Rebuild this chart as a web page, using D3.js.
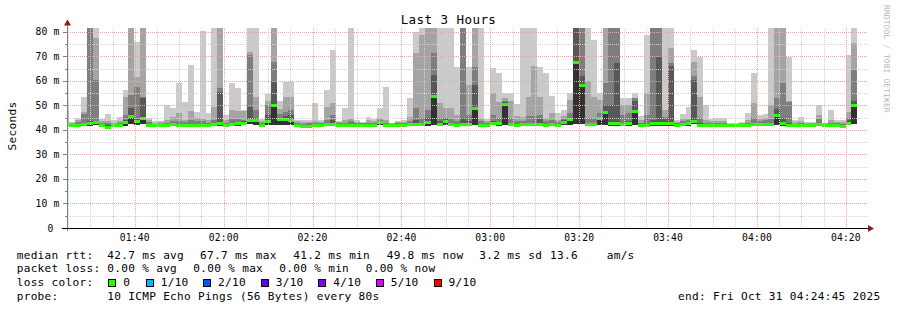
<!DOCTYPE html>
<html>
<head>
<meta charset="utf-8">
<script src="https://cdn.jsdelivr.net/npm/d3@7"></script>
<style>
  html, body { margin: 0; padding: 0; background: #ffffff; }
  svg { display: block; }
  text { font-family: "DejaVu Sans Mono", "Liberation Mono", monospace; fill: #000; }
</style>
</head>
<body>
<svg id="chart" width="897" height="310"></svg>
<script>
// ---------------- data ----------------
const chartTitle = "Last 3 Hours";
const yAxisTitle = "Seconds";
const watermark = "RRDTOOL / TOBI OETIKER";
const yTickValues = [0, 10, 20, 30, 40, 50, 60, 70, 80];
const yTickLabels = ["0 ", "10 m", "20 m", "30 m", "40 m", "50 m", "60 m", "70 m", "80 m"];
const xTickLabels = ["01:40", "02:00", "02:20", "02:40", "03:00", "03:20", "03:40", "04:00", "04:20"];
const endStamp = "2025-10-31 04:24:45";
const firstSlotEnd = "2025-10-31 01:25:15";
const stepSeconds = 80;

// RTT in ms per 80 s slot (sorted ping ranks)
const rttMin = [
41.6,41.5,41.6,41.6,41.8,42.0,41.5,41.0,41.5,41.6,
41.8,42.5,42.0,42.3,41.6,41.5,41.5,41.6,41.7,41.6,
41.6,41.6,41.6,41.6,41.5,41.7,41.8,41.5,41.7,41.8,
42.0,42.3,42.2,41.6,42.0,42.0,42.2,42.2,42.2,41.6,
41.1,41.2,41.6,41.6,41.7,41.7,41.6,41.6,41.6,41.6,
41.6,41.6,41.6,42.0,41.6,41.4,41.6,41.6,41.7,41.7,
41.7,41.8,42.0,41.8,42.2,41.7,41.6,41.8,41.7,42.0,
41.6,41.4,42.0,41.8,42.0,41.7,41.6,41.7,41.7,41.7,
41.7,41.6,41.7,41.6,42.2,42.2,42.5,42.5,41.7,41.7,
42.2,42.2,41.8,41.8,41.7,41.8,42.2,41.6,41.6,41.8,
41.8,41.8,41.8,41.6,41.7,41.8,42.3,41.6,41.4,41.6,
41.4,41.4,41.3,41.3,41.4,41.6,41.7,41.7,41.7,41.8,
42.2,41.8,41.6,41.4,41.4,41.4,41.4,41.7,41.4,41.6,
41.4,41.3,42.2,42.5];
const rttMedian = [
42.2,41.8,42.0,42.3,42.5,43.0,41.8,41.2,41.8,42.0,
43.0,45.4,43.6,44.5,42.0,41.8,41.8,42.0,42.3,42.0,
42.0,42.0,42.0,42.0,41.8,42.3,42.5,42.0,42.3,42.6,
42.8,44.0,43.8,42.0,43.3,49.8,44.3,44.3,44.0,42.0,
41.5,41.6,42.0,42.0,42.2,42.3,42.0,42.0,42.0,42.0,
42.0,42.0,42.0,43.0,42.0,41.8,42.0,42.0,42.3,42.3,
42.3,43.2,53.8,42.3,43.6,42.3,42.0,42.3,42.3,48.8,
42.0,41.8,42.8,42.5,50.3,42.3,42.0,42.2,42.3,42.3,
42.3,42.0,42.2,42.0,43.0,44.2,67.7,58.0,42.3,42.3,
44.5,47.3,42.5,42.5,42.3,42.5,47.7,42.0,42.0,42.5,
42.7,42.5,42.5,42.0,42.3,42.5,43.4,42.0,41.8,42.0,
41.8,41.8,41.7,41.7,41.8,42.0,42.3,42.3,42.3,42.4,
45.8,42.5,42.0,41.8,41.8,41.8,41.8,42.3,41.8,42.0,
41.8,41.6,42.8,49.8];
const rttP7 = [
43,42.2,42.5,43,43.5,43.5,42.2,42,42.2,42.5,
44,48.8,44.5,52.9,42.5,42.2,42.2,42.5,42.8,42.5,
42.5,42.6,42.5,42.6,42.2,43,55.5,42.4,43,43.2,
43.5,49.5,45,42.5,46,59.4,45,45.5,46,42.5,
42,42.1,42.5,42.4,42.8,44,42.4,42.5,42.5,42.4,
42.3,42.5,42.5,43.5,42.5,42.1,42.3,42.4,42.8,44,
43,45,62.4,43.5,44.5,43,42.5,45,43.5,58.3,
42.5,42.2,43.5,43,51.5,43,42.6,42.8,43,43,
44.5,42.6,43,42.5,44,45,90,62,43,43,
45,50,50,67.2,43,43.5,52,42.5,42.6,44,
69.9,44.5,66,42.4,42.8,43,60.5,43,42.2,42.4,
42.2,42.2,42,42,42.1,42.5,43,43,43,43,
48.5,45,43,42.2,42.2,42.1,42.1,43,42.1,42.5,
42.2,42,44,52];
const rttP8 = [
44,42.5,43.2,46.4,95,60.4,42.8,42.8,42.6,43,
46,54.3,57.6,53.5,43.2,42.6,42.6,43,43.5,43.5,
43.2,44,43.5,43.5,43,44,57,43,44.5,44.5,
44,70.6,48,43,50,67.9,46.5,47.5,48,43,
42.6,42.8,43,42.8,44,46,42.8,43,43.5,42.8,
42.7,43,43,44,43,42.4,42.7,42.8,43.5,48.8,
45,48,71.3,45,45,44.5,43.5,95,46,65.8,
43.5,42.8,46,45,52,45,43.5,43.5,45.5,45.5,
46,43.5,44,43.2,44.5,47,95,95,45,45,
47,59,95,95,46,47,52.9,43,46,95,
95,45.4,67.2,42.8,43.5,44,62,45,43,43,
42.8,42.8,42.3,42.2,42.5,43,45,43.8,44,44.5,
52.9,59,51.5,42.6,42.8,42.5,42.5,44.5,42.4,43,
42.7,42.5,45,64.5];
const rttP9 = [
48,42.8,44.2,47.5,98,77.4,43.5,43.5,43,43.8,
53.6,98,61.7,98,44,43,43.2,44,45.4,46.8,
44,47.7,45,44.5,44,49.5,98,44,48.1,47.9,
47.8,72,53.6,43.8,52,98,48.5,53.4,53.5,43.5,
43.2,43.4,43.8,43.4,49.2,50.9,43.3,44,44.5,43.4,
43,44,43.8,45,44,42.7,43.1,43.4,45.4,71.3,
78.7,98,98,50.9,48.8,48.8,46,98,58.3,98,
44.5,43.5,55,51.5,53,52,45.5,45.4,53.6,66.1,
53.6,44.8,47,44,45.5,52.2,98,98,60,53.6,
52.2,98,98,98,50,50,53,44,55,98,
98,48.1,73.3,43.4,44.3,44.5,67.9,53.6,44,43.8,
43.5,43.5,42.6,42.5,43,44,50.9,44.3,45,50.2,
98,98,52,43.2,43.5,43,43,46.1,42.7,44,
43.3,43.2,47.5,75.6];
const rttMax = [
52,43.4,45,53.6,105,102,44.3,46.7,44,45.2,
56.3,104,76,101,44.8,43.5,43.8,50.2,48.8,59,
51.5,66.5,47.5,80.3,46.8,97,106,46.1,59.3,57,
48.3,103,99,44.5,54.6,108,52,59.7,59.5,44,
44,44.2,50.9,44,56.3,72.6,43.8,48.8,96,44,
43.4,45.4,44.5,48.8,57.7,43,43.5,44,52.9,80.1,
101,104,112,95,99,97,65.8,108,65.8,103,
92,44.3,65.2,63.1,55,55,50.5,95,98,96,
65.8,63.1,54,46.8,48.1,55,125,118,97,76.7,
55,104,110,107,52.9,53,55,45.5,78.7,106,
109,96,99,44,46.5,49.5,72.6,69.9,50.2,44.5,
44.7,44.7,43,42.8,43.4,46.8,63.1,46.1,46.5,97,
105,103,69.9,44,45.4,43.4,43.4,50.2,43,48.1,
44.2,44,70.6,99];

// legend text
const legendLabels = ["median rtt:", "packet loss:", "loss color:", "probe:"];
const rttStats = ["42.7 ms avg", "67.7 ms max", "41.2 ms min", "49.8 ms now", "3.2 ms sd", "13.6", "am/s"];
const lossStats = ["0.00 % avg", "0.00 % max", "0.00 % min", "0.00 % now"];
const lossColorLabels = ["0", "1/10", "2/10", "3/10", "4/10", "5/10", "9/10"];
const lossColors = ["#26ff00", "#00b8ff", "#0059ff", "#5e00ff", "#7e00ff", "#dd00ff", "#ff0000"];
const probeText = "10 ICMP Echo Pings (56 Bytes) every 80s";
const endText = "end: Fri Oct 31 04:24:45 2025";

// ---------------- layout ----------------
const svg = d3.select("#chart");
const P = { left: 67, right: 867, top: 28, bottom: 228 };
const yMax = 81.6;
const parse = d3.timeParse("%Y-%m-%d %H:%M:%S");
const tEnd = parse(endStamp);
const tStart = new Date(tEnd.getTime() - 3 * 3600 * 1000);
const x = d3.scaleTime().domain([tStart, tEnd]).range([P.left, P.right]);
const y = d3.scaleLinear().domain([0, yMax]).range([P.bottom, P.top]);

svg.append("rect").attr("width", 897).attr("height", 310).attr("fill", "#fff");

const defs = svg.append("defs");
defs.append("clipPath").attr("id", "plotclip")
  .append("rect").attr("x", P.left + 1).attr("y", P.top).attr("width", P.right - P.left - 1).attr("height", P.bottom - P.top);

const slotEnd0 = parse(firstSlotEnd);
const slots = rttMedian.map((m, i) => {
  const s = new Date(slotEnd0.getTime() + (i - 1) * stepSeconds * 1000);
  const e = new Date(s.getTime() + stepSeconds * 1000);
  return { i, s, e };
});

const gData = svg.append("g").attr("clip-path", "url(#plotclip)");
const bands = [
  { lo: rttMin, hi: rttMax, color: "#cacaca" },
  { lo: rttMin, hi: rttP9, color: "#a4a4a4" },
  { lo: rttMin, hi: rttP8, color: "#7e7e7e" },
  { lo: rttMin, hi: rttP7, color: "#585858" },
  { lo: rttMin, hi: rttMedian, color: "#323232" }
];
const clampV = v => Math.min(v, yMax + 2);
bands.forEach(b => {
  gData.append("g").selectAll("rect").data(slots).join("rect")
    .attr("x", d => Math.round(x(d.s)))
    .attr("width", d => Math.round(x(d.e)) - Math.round(x(d.s)))
    .attr("y", d => Math.round(y(clampV(b.hi[d.i]))))
    .attr("height", d => Math.max(0, Math.round(y(b.lo[d.i])) - Math.round(y(clampV(b.hi[d.i])))))
    .attr("fill", b.color)
    .attr("shape-rendering", "crispEdges");
});
// median (loss colour 0)
gData.append("g").selectAll("rect").data(slots).join("rect")
  .attr("x", d => Math.round(x(d.s)))
  .attr("width", d => Math.round(x(d.e)) - Math.round(x(d.s)))
  .attr("y", d => Math.round(y(rttMedian[d.i]) - 1.5))
  .attr("height", 3)
  .attr("fill", lossColors[0])
  .attr("shape-rendering", "crispEdges");

// ---------------- grid ----------------
const gGrid = svg.append("g").attr("shape-rendering", "crispEdges");
const minorColor = "#d2d2d2", majorColor = "#eca4a4";
d3.range(5, 81, 5).forEach(v => {
  const yy = Math.round(y(v)) + 0.5;
  gGrid.append("line").attr("x1", P.left + 1).attr("x2", P.right + 1).attr("y1", yy).attr("y2", yy)
    .attr("stroke", v % 10 === 0 ? majorColor : minorColor).attr("stroke-dasharray", "1,1");
});
const minorTimes = d3.timeMinute.every(5).range(tStart, tEnd);
minorTimes.forEach(t => {
  const xx = Math.round(x(t)) + 0.5;
  if (xx <= P.left + 1) return;
  const major = t.getMinutes() % 20 === 0;
  gGrid.append("line").attr("x1", xx).attr("x2", xx).attr("y1", P.top).attr("y2", P.bottom)
    .attr("stroke", major ? majorColor : minorColor).attr("stroke-dasharray", "1,1");
});

// ---------------- axes ----------------
const gAxis = svg.append("g").attr("shape-rendering", "crispEdges");
d3.range(0, 81, 5).forEach(v => {
  const yy = Math.round(y(v)) + 0.5;
  gAxis.append("line").attr("x1", v % 10 === 0 ? 63 : 65).attr("x2", P.left).attr("y1", yy).attr("y2", yy)
    .attr("stroke", "#808080");
});
gAxis.append("line").attr("x1", P.left + 0.5).attr("x2", P.left + 0.5).attr("y1", 22).attr("y2", P.bottom + 3)
  .attr("stroke", "#808080");
gAxis.append("line").attr("x1", 62).attr("x2", P.right + 2).attr("y1", P.bottom + 0.5).attr("y2", P.bottom + 0.5)
  .attr("stroke", "#000").attr("stroke-width", 1.4);
svg.append("path").attr("d", `M${P.left - 3},25.5 L${P.left + 4},25.5 L${P.left + 0.5},19.5 Z`).attr("fill", "#8e1b1b");
svg.append("path").attr("d", `M${P.right + 1},225 L${P.right + 1},232 L${P.right + 7},228.5 Z`).attr("fill", "#8e1b1b");

const axisFont = { size: "9.7px", ls: "0.15px" };
svg.append("g").selectAll("text").data(yTickValues).join("text")
  .attr("x", 59.5).attr("y", d => y(d) + 3.5)
  .attr("text-anchor", "end").attr("xml:space", "preserve")
  .style("font-size", axisFont.size).style("letter-spacing", axisFont.ls)
  .style("white-space", "pre")
  .text((d, i) => yTickLabels[i]);

const fmt = d3.timeFormat("%H:%M");
const majorTimes = d3.timeMinute.every(20).range(tStart, tEnd);
svg.append("g").selectAll("text").data(majorTimes).join("text")
  .attr("x", d => x(d)).attr("y", 240.7)
  .attr("text-anchor", "middle")
  .style("font-size", axisFont.size).style("letter-spacing", axisFont.ls)
  .text(d => xTickLabels[xTickLabels.indexOf(fmt(d))] || fmt(d));

svg.append("text").attr("x", 448.5).attr("y", 24).attr("text-anchor", "middle")
  .style("font-size", "12.5px").style("letter-spacing", "0.45px").text(chartTitle);
svg.append("text").attr("transform", "translate(16,126) rotate(-90)").attr("text-anchor", "middle")
  .style("font-size", "11.1px").style("letter-spacing", "0.3px").text(yAxisTitle);
svg.append("text").attr("transform", "translate(884,5) rotate(90)").attr("text-anchor", "start")
  .style("font-size", "7.8px").style("letter-spacing", "0.2px").style("fill", "#b4b4b4").text(watermark);

// ---------------- legend ----------------
const lg = svg.append("g").style("font-size", "11.1px").style("letter-spacing", "0.3px");
const rowY = [258.5, 272.3, 286.2, 300.2];
legendLabels.forEach((t, i) => lg.append("text").attr("x", 16.7).attr("y", rowY[i]).text(t));
const rttX = [107.3, 200, 293.3, 386.7, 479.3, 550, 606.7];
rttStats.forEach((t, i) => lg.append("text").attr("x", rttX[i]).attr("y", rowY[0]).text(t));
const lossX = [107.3, 193.3, 279.3, 365.7];
lossStats.forEach((t, i) => lg.append("text").attr("x", lossX[i]).attr("y", rowY[1]).text(t));
const boxX = [108.3, 145.7, 203, 260.7, 318.3, 375.7, 433.5];
lossColorLabels.forEach((t, i) => {
  lg.append("rect").attr("x", boxX[i] + 0.5).attr("y", 279.5).attr("width", 7).attr("height", 7)
    .attr("fill", lossColors[i]).attr("stroke", "#000").attr("stroke-width", 1).attr("shape-rendering", "crispEdges");
  lg.append("text").attr("x", boxX[i] + 15).attr("y", rowY[2]).text(t);
});
lg.append("text").attr("x", 107.3).attr("y", rowY[3]).text(probeText);
lg.append("text").attr("x", 880.5).attr("y", rowY[3]).attr("text-anchor", "end").text(endText);
</script>
</body>
</html>
